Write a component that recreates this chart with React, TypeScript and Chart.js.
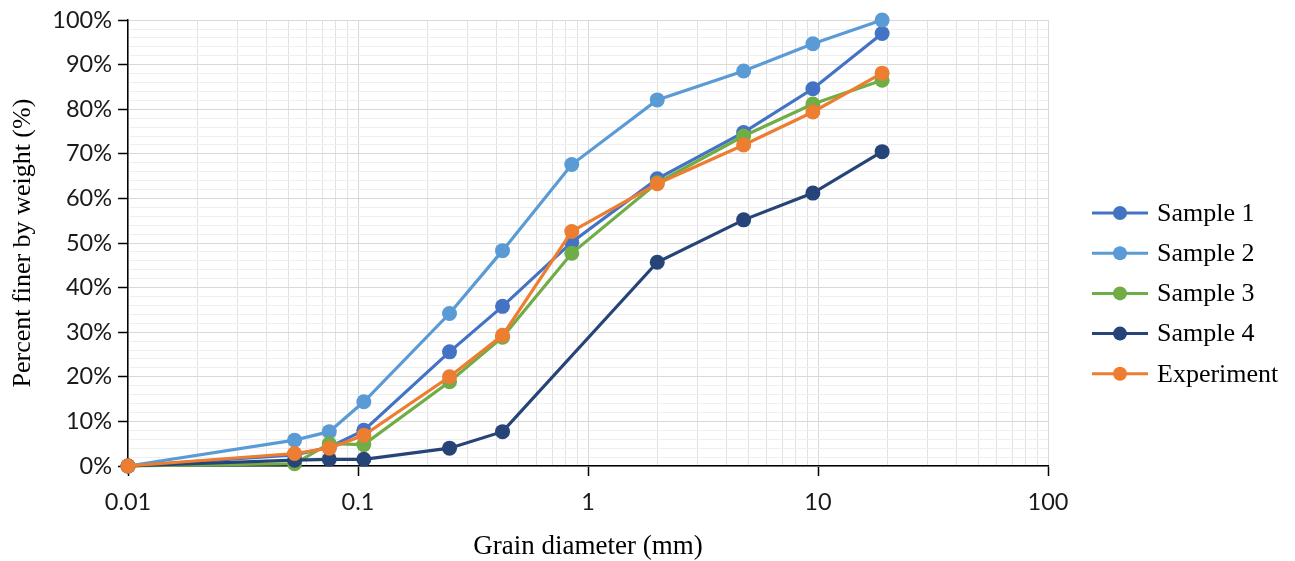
import React, { useEffect, useRef } from 'react';
import { Chart, registerables } from 'chart.js';

Chart.register(...registerables);

// ---- Data ----
const grainSizes = [0.01, 0.053, 0.075, 0.106, 0.25, 0.425, 0.85, 2.0, 4.75, 9.5, 19];
const sample1 = [0, 2.5, 4.2, 8.0, 25.6, 35.8, 50.2, 64.4, 74.8, 84.6, 97.0];
const sample2 = [0, 5.8, 7.7, 14.4, 34.2, 48.3, 67.6, 82.1, 88.6, 94.7, 100];
const sample3 = [0, 0.5, 5.0, 4.8, 18.9, 28.9, 47.7, 63.5, 74.0, 81.2, 86.5];
const sample4 = [0, 1.3, 1.5, 1.5, 4.0, 7.7, null, 45.7, 55.2, 61.2, 70.5];
const experiment = [0, 2.8, 4.0, 6.9, 20.0, 29.3, 52.6, 63.3, 72.0, 79.4, 88.1];

const seriesNames = ['Sample 1', 'Sample 2', 'Sample 3', 'Sample 4', 'Experiment'];
const seriesValues = [sample1, sample2, sample3, sample4, experiment];
const seriesColors = ['#4472C4', '#5B9BD5', '#70AD47', '#264478', '#ED7D31'];

const xMajorTicks = [0.01, 0.1, 1, 10, 100];
const yMajorTicks = [0, 10, 20, 30, 40, 50, 60, 70, 80, 90, 100];
const yMinorStep = 2;

const xTitle = 'Grain diameter (mm)';
const yTitle = 'Percent finer by weight (%)';

const isDecade = (v: number) => {
  const l = Math.log10(v);
  return Math.abs(l - Math.round(l)) < 1e-9;
};

const xAllTicks: number[] = [];
for (let i = 0; i < xMajorTicks.length - 1; i++) {
  for (let m = 1; m <= 9; m++) xAllTicks.push(+(xMajorTicks[i] * m).toPrecision(6));
}
xAllTicks.push(xMajorTicks[xMajorTicks.length - 1]);

const yAllTicks: number[] = [];
for (let v = yMajorTicks[0]; v <= yMajorTicks[yMajorTicks.length - 1]; v += yMinorStep) yAllTicks.push(v);

const tickFont = { family: 'Lato', size: 23.5 };
const xTitleFont = { family: 'Liberation Serif', size: 27 };
const yTitleFont = { family: 'Liberation Serif', size: 26 };
const legendFontSize = 26;

const legendPlugin = {
  id: 'customLegend',
  afterDraw(chart: any) {
    const ctx = chart.ctx;
    const area = chart.chartArea;
    const x0 = area.right + 44;
    const y0 = 213;
    const step = 40.2;
    ctx.save();
    seriesNames.forEach((name, i) => {
      const y = y0 + i * step;
      ctx.strokeStyle = seriesColors[i];
      ctx.lineWidth = 3;
      ctx.beginPath();
      ctx.moveTo(x0, y);
      ctx.lineTo(x0 + 56, y);
      ctx.stroke();
      ctx.fillStyle = seriesColors[i];
      ctx.beginPath();
      ctx.arc(x0 + 28, y, 7, 0, Math.PI * 2);
      ctx.fill();
      ctx.fillStyle = '#000';
      ctx.font = `${legendFontSize}px "Liberation Serif"`;
      ctx.textBaseline = 'middle';
      ctx.textAlign = 'left';
      ctx.fillText(name, x0 + 65, y + 1);
    });
    ctx.restore();
  },
};

export default function App() {
  const ref = useRef<HTMLCanvasElement | null>(null);

  useEffect(() => {
    if (!ref.current) return;
    const datasets = seriesNames.map((name, i) => ({
      label: name,
      data: grainSizes.map((x, j) => ({ x, y: seriesValues[i][j] })),
      borderColor: seriesColors[i],
      backgroundColor: seriesColors[i],
      borderWidth: 3.2,
      pointRadius: 7.5,
      pointHoverRadius: 7.5,
      pointBorderWidth: 0,
      tension: 0,
      spanGaps: true,
      clip: false as any,
      order: seriesNames.length - i,
    }));

    const chart = new Chart(ref.current, {
      type: 'line',
      data: { datasets },
      plugins: [legendPlugin],
      options: {
        responsive: false,
        animation: false,
        layout: { padding: { top: 19, right: 247, left: 0, bottom: 0 } },
        plugins: {
          legend: { display: false },
          tooltip: { enabled: false },
        },
        scales: {
          x: {
            type: 'logarithmic',
            min: 0.01,
            max: 100,
            afterBuildTicks: (scale: any) => {
              scale.ticks = xAllTicks.map((v) => ({ value: v }));
            },
            afterFit: (scale: any) => {
              scale.height = 95;
            },
            ticks: {
              autoSkip: false,
              maxRotation: 0,
              minRotation: 0,
              padding: 12,
              color: '#1a1a1a',
              font: tickFont,
              callback: (v: any) => (isDecade(Number(v)) ? String(Number(v)) : ''),
            },
            grid: {
              color: (c: any) => (c.tick && isDecade(c.tick.value) ? '#d9d9d9' : '#e2e2e2'),
              tickColor: (c: any) => (c.tick && isDecade(c.tick.value) ? '#000' : 'rgba(0,0,0,0)'),
              tickLength: 10,
              tickWidth: 1.5,
              lineWidth: 1,
            },
            border: { color: '#000', width: 1.5 },
            title: {
              display: true,
              text: xTitle,
              color: '#000',
              font: xTitleFont,
              padding: { top: 0, bottom: -2 },
            },
          },
          y: {
            type: 'linear',
            min: 0,
            max: 100,
            afterBuildTicks: (scale: any) => {
              scale.ticks = yAllTicks.map((v) => ({ value: v }));
            },
            afterFit: (scale: any) => {
              scale.width = 128;
            },
            ticks: {
              autoSkip: false,
              padding: 6,
              color: '#1a1a1a',
              font: tickFont,
              callback: (v: any) => (Number(v) % 10 === 0 ? `${v}%` : ''),
            },
            grid: {
              color: (c: any) => (c.tick && c.tick.value % 10 === 0 ? '#d9d9d9' : '#efefef'),
              tickColor: (c: any) => (c.tick && c.tick.value % 10 === 0 ? '#000' : 'rgba(0,0,0,0)'),
              tickLength: 10,
              tickWidth: 1.5,
              lineWidth: 1,
            },
            border: { color: '#000', width: 1.5 },
            title: {
              display: true,
              text: yTitle,
              color: '#000',
              font: yTitleFont,
              padding: { top: 8, bottom: 0 },
            },
          },
        },
      } as any,
    });
    return () => chart.destroy();
  }, []);

  return (
    <div style={{ position: 'absolute', left: 0, top: 0, width: 1295, height: 561, background: '#fff' }}>
      <canvas ref={ref} width={1295} height={561} style={{ display: 'block' }} />
    </div>
  );
}
